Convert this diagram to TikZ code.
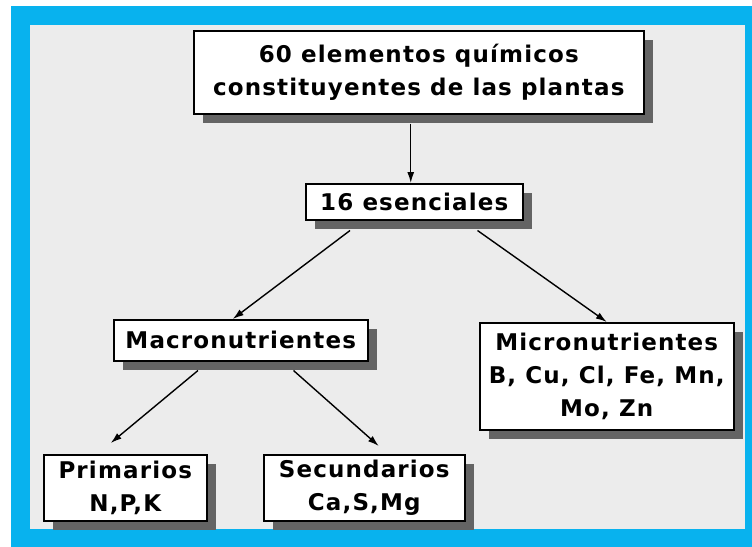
\documentclass[tikz,border=0pt]{standalone}
\usepackage{fontspec}
\newfontfamily\bmfont{DejaVu Sans}[LetterSpace=5]
\usetikzlibrary{shadows,arrows.meta}
\definecolor{frameblue}{RGB}{8,178,238}
\definecolor{bggray}{RGB}{236,236,236}
\definecolor{shadowgray}{RGB}{100,100,100}
\begin{document}
\begin{tikzpicture}[x=1pt,y=-1pt,
  box/.style={draw=black, line width=1.5pt, fill=white, inner sep=0pt, anchor=north west,
    align=center, font=\bmfont\bfseries\fontsize{23}{33}\selectfont,
    general shadow={fill=shadowgray, shadow xshift=9pt, shadow yshift=-9pt}},
  conn/.style={line width=1.4pt, -{Latex[length=11pt,width=7pt]}}]
\useasboundingbox (0,0) rectangle (752,546);
\fill[white] (0,0) rectangle (752,546);
\fill[frameblue] (11,6) rectangle (760,550);
\fill[bggray] (30,25) rectangle (745,529);
\node[box, minimum width=450pt, minimum height=83pt] (top) at (193,30) {60 elementos químicos\\constituyentes de las plantas};
\node[box, minimum width=217pt, minimum height=36pt] (ess) at (305,183) {16 esenciales};
\node[box, minimum width=254pt, minimum height=41pt] (macro) at (113,319) {Macronutrientes};
\node[box, minimum width=254pt, minimum height=107pt] (micro) at (479,322) {Micronutrientes\\B, Cu, Cl, Fe, Mn,\\Mo, Zn};
\node[box, minimum width=163pt, minimum height=66pt] (prim) at (43,454) {Primarios\\N,P,K};
\node[box, minimum width=201pt, minimum height=66pt] (sec) at (263,454) {Secundarios\\Ca,S,Mg};
\draw[conn] ([xshift=-8pt,yshift=-9pt]top.south) -- ([xshift=-3.5pt]ess.north);
\draw[conn] ([xshift=45pt,yshift=-10pt]ess.south west) -- ([xshift=-8pt]macro.north);
\draw[conn] ([xshift=-46pt,yshift=-10pt]ess.south east) -- (micro.north);
\draw[conn] ([xshift=85pt,yshift=-9pt]macro.south west) -- ([xshift=-14.5pt,yshift=11pt]prim.north);
\draw[conn] ([xshift=-75pt,yshift=-9pt]macro.south east) -- ([xshift=14.5pt,yshift=8pt]sec.north);
\end{tikzpicture}
\end{document}
